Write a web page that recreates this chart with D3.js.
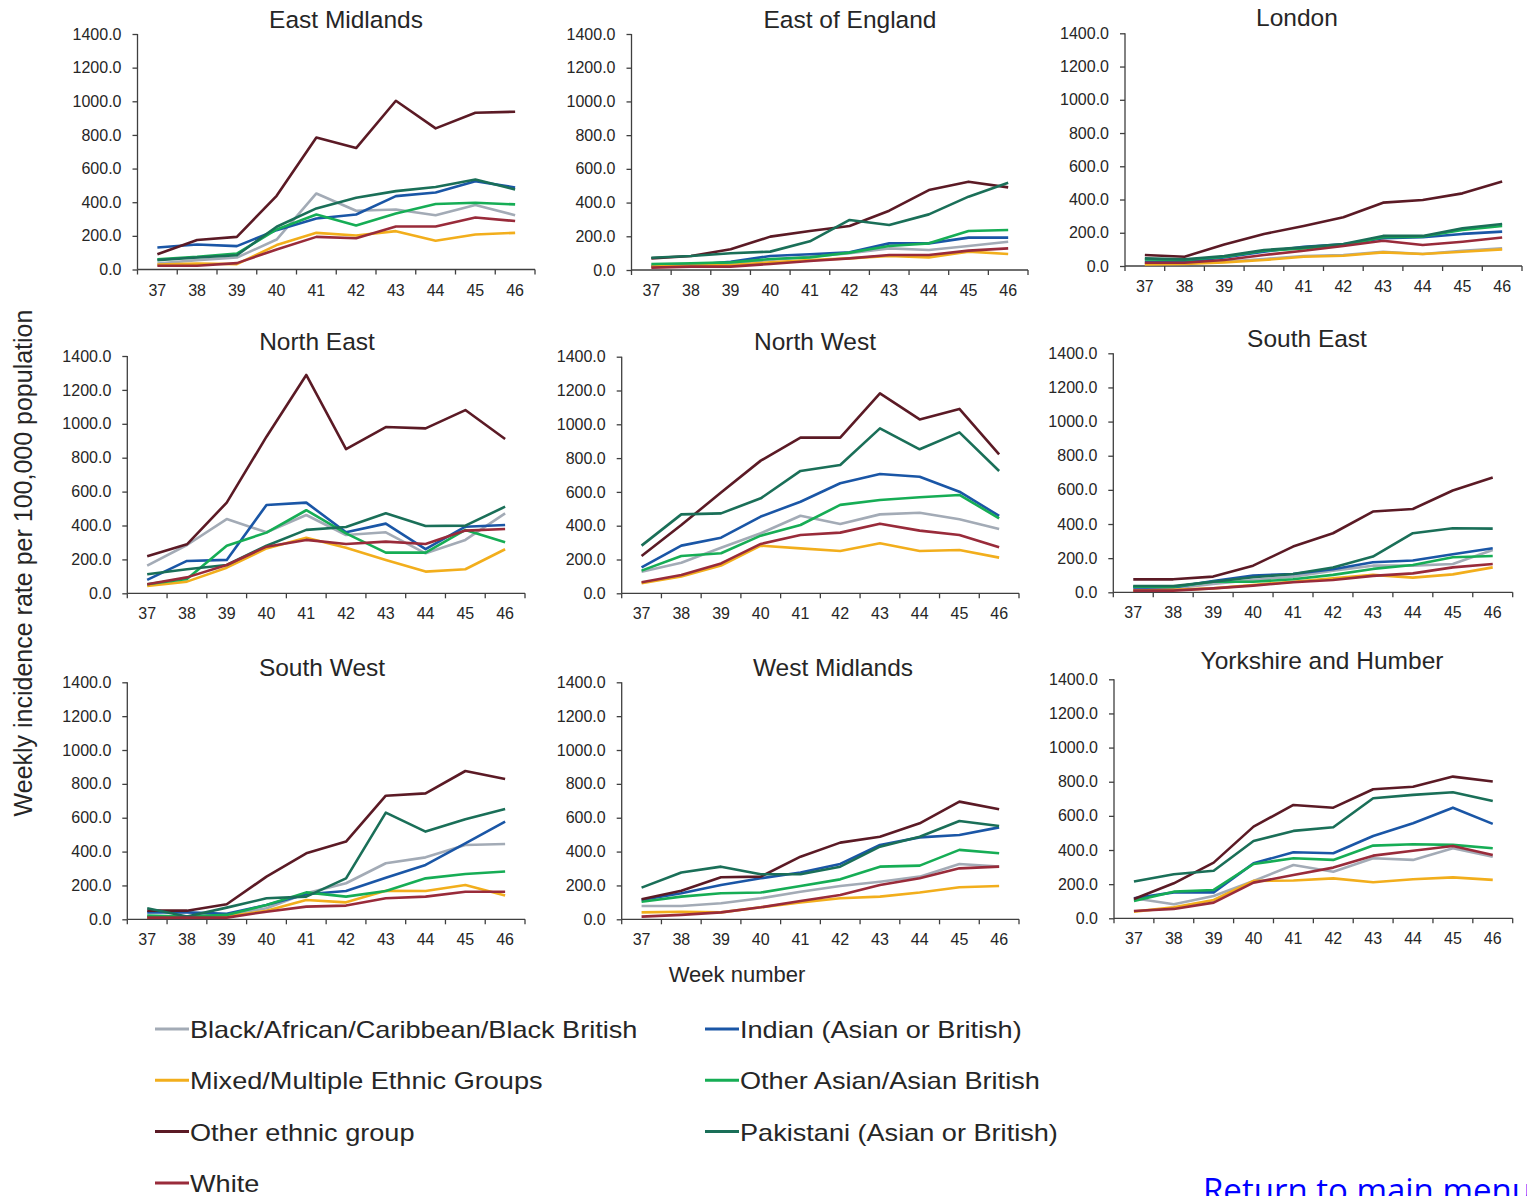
<!DOCTYPE html>
<html>
<head>
<meta charset="utf-8">
<script src="https://cdn.jsdelivr.net/npm/d3@7"></script>
<style>
  body { margin: 0; background: #fff; overflow: hidden; }
  svg { display: block; }
  text { font-family: "Liberation Sans", Arial, sans-serif; fill: #262626; }
</style>
</head>
<body>
<svg id="chart" width="1527" height="1196"></svg>
<script>
// ---- data ---------------------------------------------------------------
const weeks = [37, 38, 39, 40, 41, 42, 43, 44, 45, 46];
const yTicks = [0, 200, 400, 600, 800, 1000, 1200, 1400];

const groups = [
  "Black/African/Caribbean/Black British",
  "Indian (Asian or British)",
  "Mixed/Multiple Ethnic Groups",
  "Other Asian/Asian British",
  "Other ethnic group",
  "Pakistani (Asian or British)",
  "White"
];
const groupColors = ["#A3ABB6", "#1A56A6", "#F2AE1C", "#16AD55", "#5B1A25", "#1A6F58", "#992B3A"];

const regions = [
  "East Midlands", "East of England", "London",
  "North East", "North West", "South East",
  "South West", "West Midlands", "Yorkshire and Humber"
];

// weekly rates per 100,000; one row per entry of `groups`
const eastMidlands = [
  [36, 56, 71, 178, 452, 349, 357, 323, 383, 323],
  [131, 149, 139, 234, 303, 327, 436, 458, 525, 488],
  [30, 36, 32, 145, 218, 202, 228, 171, 208, 218],
  [61, 75, 95, 238, 327, 262, 333, 389, 397, 387],
  [91, 175, 194, 438, 785, 722, 1003, 839, 932, 938],
  [56, 71, 85, 254, 363, 426, 466, 490, 535, 476],
  [22, 22, 38, 119, 194, 186, 256, 256, 309, 288]
];
const eastOfEngland = [
  [20, 26, 40, 59, 79, 99, 128, 119, 142, 168],
  [24, 30, 49, 83, 93, 105, 158, 158, 192, 192],
  [20, 26, 30, 45, 59, 69, 83, 75, 109, 95],
  [36, 40, 45, 65, 75, 103, 142, 158, 231, 237],
  [69, 83, 123, 198, 231, 261, 352, 474, 524, 490],
  [73, 83, 99, 109, 170, 297, 267, 330, 435, 518],
  [14, 20, 20, 36, 53, 69, 89, 89, 115, 128]
];
const london = [
  [12, 16, 26, 42, 60, 66, 86, 72, 92, 106],
  [26, 26, 52, 86, 116, 130, 167, 173, 193, 207],
  [10, 12, 22, 36, 56, 62, 82, 72, 86, 100],
  [40, 36, 56, 92, 106, 126, 173, 177, 217, 241],
  [66, 56, 130, 193, 241, 293, 381, 397, 437, 508],
  [46, 40, 60, 96, 112, 132, 181, 181, 227, 253],
  [20, 20, 36, 66, 92, 120, 152, 126, 146, 171]
];
const northEast = [
  [163, 285, 438, 360, 462, 344, 360, 236, 315, 472],
  [79, 191, 197, 521, 535, 360, 411, 261, 393, 403],
  [43, 69, 151, 265, 328, 269, 197, 128, 142, 260],
  [53, 85, 281, 358, 490, 354, 240, 240, 374, 301],
  [218, 289, 535, 924, 1288, 851, 981, 973, 1081, 910],
  [112, 142, 167, 281, 374, 391, 472, 397, 399, 511],
  [53, 94, 167, 275, 315, 291, 305, 291, 370, 379]
];
const northWest = [
  [128, 181, 270, 355, 459, 410, 467, 477, 438, 381],
  [154, 282, 329, 454, 542, 651, 706, 690, 601, 458],
  [59, 99, 164, 282, 266, 250, 296, 250, 256, 211],
  [134, 221, 237, 341, 404, 523, 552, 568, 582, 444],
  [221, 404, 596, 785, 921, 921, 1183, 1029, 1091, 822],
  [282, 467, 473, 562, 724, 759, 976, 852, 952, 724],
  [65, 108, 177, 292, 345, 359, 412, 371, 345, 272]
];
const southEast = [
  [18, 23, 49, 72, 92, 127, 156, 156, 166, 248],
  [29, 29, 66, 98, 107, 135, 176, 186, 223, 258],
  [10, 14, 23, 43, 62, 82, 102, 86, 105, 146],
  [33, 33, 62, 62, 76, 102, 137, 160, 205, 213],
  [76, 76, 92, 156, 268, 346, 473, 488, 596, 672],
  [37, 37, 62, 88, 107, 145, 209, 346, 375, 373],
  [10, 10, 23, 39, 59, 72, 96, 111, 146, 166]
];
const southWest = [
  [16, 16, 26, 65, 154, 213, 331, 366, 439, 445],
  [41, 41, 32, 85, 148, 167, 246, 321, 449, 577],
  [10, 10, 16, 51, 114, 100, 169, 167, 203, 140],
  [22, 16, 26, 85, 159, 134, 167, 242, 268, 282],
  [51, 51, 89, 252, 390, 459, 730, 744, 876, 829],
  [65, 16, 69, 124, 134, 242, 630, 518, 591, 652],
  [10, 10, 10, 45, 75, 81, 124, 134, 163, 163]
];
const westMidlands = [
  [79, 79, 95, 124, 163, 197, 222, 252, 327, 311],
  [114, 154, 203, 242, 276, 327, 439, 484, 498, 543],
  [41, 45, 41, 71, 100, 124, 134, 158, 189, 197],
  [104, 134, 154, 158, 197, 236, 311, 317, 410, 390],
  [118, 169, 248, 252, 370, 453, 488, 567, 695, 650],
  [187, 276, 311, 266, 266, 311, 429, 488, 581, 551],
  [16, 26, 41, 71, 108, 144, 203, 242, 301, 311]
];
const yorkshireHumber = [
  [117, 82, 131, 219, 312, 273, 352, 342, 410, 361],
  [117, 152, 152, 322, 387, 381, 482, 557, 648, 553],
  [39, 64, 107, 219, 221, 234, 211, 229, 240, 225],
  [102, 156, 166, 318, 352, 342, 426, 434, 430, 410],
  [113, 205, 326, 537, 664, 648, 756, 771, 830, 801],
  [215, 258, 279, 453, 512, 533, 703, 723, 738, 687],
  [43, 55, 92, 209, 254, 297, 367, 396, 424, 371]
];

const regionValues = [
  eastMidlands, eastOfEngland, london,
  northEast, northWest, southEast,
  southWest, westMidlands, yorkshireHumber
];

// ---- layout -------------------------------------------------------------
// plot frame of each small multiple: left axis, right end, top (max), bottom (zero)
const frames = [
  { l: 137.5, r: 535,   t: 34,    b: 269.5, tx: 346,  ty: 28 },
  { l: 631.5, r: 1028,  t: 34,    b: 270,   tx: 850,  ty: 28 },
  { l: 1125,  r: 1522,  t: 33.3,  b: 266,   tx: 1297, ty: 26 },
  { l: 127.3, r: 525,   t: 356,   b: 593.3, tx: 317,  ty: 350 },
  { l: 621.7, r: 1019,  t: 356.7, b: 593.3, tx: 815,  ty: 350 },
  { l: 1113.3,r: 1512.7,t: 353.3, b: 592.3, tx: 1307, ty: 347 },
  { l: 127.3, r: 525,   t: 682.3, b: 919.3, tx: 322,  ty: 676 },
  { l: 621.7, r: 1019,  t: 682.3, b: 919.3, tx: 833,  ty: 676 },
  { l: 1114,  r: 1512.7,t: 679.3, b: 918.3, tx: 1322, ty: 669 }
];

const svg = d3.select("#chart");
const axisColor = "#3f3f3f";
const fmt = d3.format(".1f");

regions.forEach((name, ri) => {
  const f = frames[ri];
  const x = d3.scaleBand().domain(weeks).range([f.l, f.r]);
  const y = d3.scaleLinear().domain([0, 1400]).range([f.b, f.t]);
  const g = svg.append("g").attr("class", "panel");

  // title
  g.append("text")
    .attr("x", f.tx).attr("y", f.ty)
    .attr("text-anchor", "middle")
    .style("font-size", "24.5px")
    .text(name);

  // y axis
  const yAxis = g.append("g")
    .attr("transform", `translate(${f.l},0)`)
    .call(d3.axisLeft(y).tickValues(yTicks).tickFormat(fmt).tickSize(5).tickPadding(11));
  yAxis.select(".domain").attr("stroke", axisColor).attr("stroke-width", 1.3).attr("d", `M0,${f.b}V${f.t}`);
  yAxis.selectAll(".tick line").attr("stroke", axisColor).attr("stroke-width", 1.3);
  yAxis.selectAll(".tick text").style("font-size", "16px").attr("fill", "#262626").style("font-family", "Liberation Sans, Arial, sans-serif");

  // x axis: line, boundary ticks, centred week labels
  const xa = g.append("g");
  xa.append("line")
    .attr("x1", f.l).attr("x2", f.r).attr("y1", f.b).attr("y2", f.b)
    .attr("stroke", axisColor).attr("stroke-width", 1.3);
  const edges = weeks.map(w => x(w)).concat([x(weeks[weeks.length - 1]) + x.bandwidth()]);
  xa.selectAll("line.edge").data(edges).join("line")
    .attr("class", "edge")
    .attr("x1", d => d).attr("x2", d => d)
    .attr("y1", f.b).attr("y2", f.b + 5)
    .attr("stroke", axisColor).attr("stroke-width", 1.3);
  xa.selectAll("text").data(weeks).join("text")
    .attr("x", d => x(d) + x.bandwidth() / 2)
    .attr("y", f.b + 26)
    .attr("text-anchor", "middle")
    .style("font-size", "16px")
    .text(d => d);

  // series lines
  const line = d3.line()
    .x((d, i) => x(weeks[i]) + x.bandwidth() / 2)
    .y(d => y(d));
  g.selectAll("path.series").data(regionValues[ri]).join("path")
    .attr("class", "series")
    .attr("d", line)
    .attr("fill", "none")
    .attr("stroke", (d, i) => groupColors[i])
    .attr("stroke-width", 2.6)
    .attr("stroke-linejoin", "round");
});

// axis titles
svg.append("text")
  .attr("transform", "translate(32,563) rotate(-90)")
  .attr("text-anchor", "middle")
  .style("font-size", "25px")
  .text("Weekly incidence rate per 100,000 population");

svg.append("text")
  .attr("x", 737).attr("y", 982)
  .attr("text-anchor", "middle")
  .style("font-size", "22px")
  .text("Week number");

// legend, two columns filled row by row
const legend = svg.append("g");
groups.forEach((name, i) => {
  const lx = i % 2 === 0 ? 155 : 705;
  const ly = 1029 + Math.floor(i / 2) * 51.3;
  legend.append("line")
    .attr("x1", lx).attr("x2", lx + 34).attr("y1", ly).attr("y2", ly)
    .attr("stroke", groupColors[i]).attr("stroke-width", 3);
  legend.append("text")
    .attr("transform", `translate(${lx + 35},${ly + 9}) scale(1.13,1)`)
    .style("font-size", "24px")
    .text(name);
});

// navigation link text
svg.append("text")
  .attr("x", 1203).attr("y", 1202)
  .style("font-family", "'Open Sans', 'Noto Sans', sans-serif")
  .style("font-size", "33px")
  .style("fill", "#0000FF")
  .text("Return to main menu");
</script>
</body>
</html>
